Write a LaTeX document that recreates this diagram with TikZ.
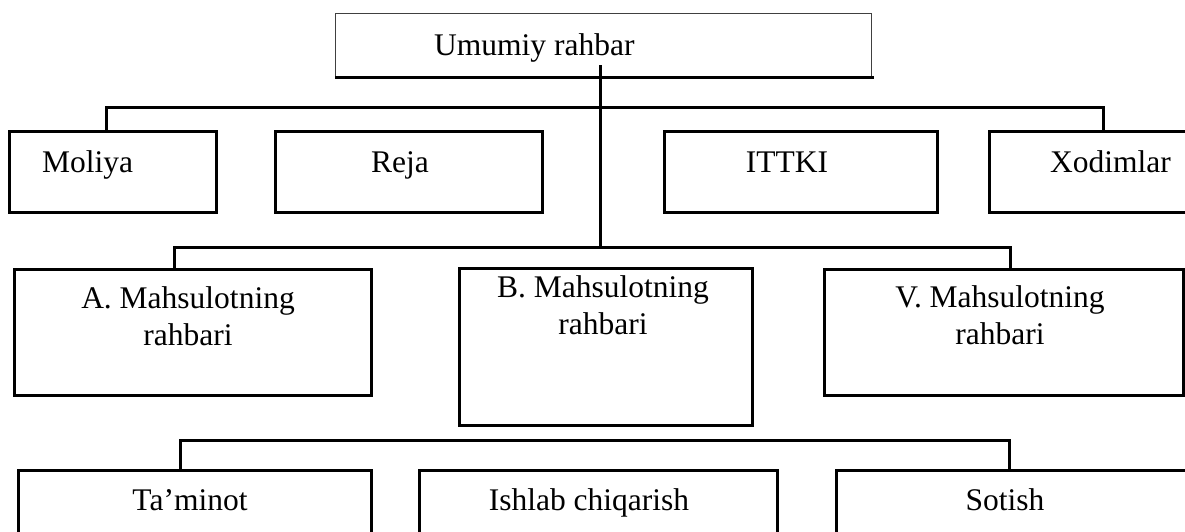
\documentclass[tikz,border=0pt]{standalone}
\usepackage{fontspec}
\setmainfont{Liberation Serif}
\begin{document}
\begin{tikzpicture}[x=1pt,y=-1pt,
  every node/.style={font=\fontsize{31.5}{37}\selectfont},
  box/.style={draw, line width=3pt, inner sep=0pt, anchor=north west},
  thinbox/.style={draw=black!75, line width=1.3pt, inner sep=0pt, anchor=north west},
  link/.style={line width=3pt},
  lbl/.style={inner sep=0pt, anchor=base, align=center}]
\clip (0,0) rectangle (1185,531);
% top box
\node[thinbox, minimum width=536pt, minimum height=63pt] (top) at (335,13) {};
\draw[link] (top.south west) -- ([xshift=2pt]top.south east);
\node[lbl, anchor=base west] (topt) at (434,55) {Umumiy rahbar};
% row 1
\node[box, minimum width=207pt, minimum height=81pt] (moliya) at (8,130) {};
\node[box, minimum width=267pt, minimum height=81pt] (reja) at (274,130) {};
\node[box, minimum width=273pt, minimum height=81pt] (ittki) at (663,130) {};
\node[box, minimum width=240pt, minimum height=81pt] (xodim) at (988,130) {};
\node[lbl, anchor=base west] (moliyat) at (42,172) {Moliya};
\node[lbl] (rejat) at (400,172) {Reja};
\node[lbl] (ittkit) at (787,172) {ITTKI};
\node[lbl, anchor=base west] (xodimt) at (1050,172) {Xodimlar};
% row 2
\node[box, minimum width=357pt, minimum height=126pt] (a) at (13,268) {};
\node[box, minimum width=293pt, minimum height=157pt] (b) at (458,267) {};
\node[box, minimum width=359pt, minimum height=126pt] (v) at (823,268) {};
\node[lbl] (at) at (188,345) {A. Mahsulotning\\rahbari};
\node[lbl] (bt) at (603,334) {B. Mahsulotning\\rahbari};
\node[lbl] (vt) at (1000,344) {V. Mahsulotning\\rahbari};
% row 3
\node[box, minimum width=353pt, minimum height=120pt] (tam) at (17,469) {};
\node[box, minimum width=358pt, minimum height=120pt] (ish) at (418,469) {};
\node[box, minimum width=400pt, minimum height=120pt] (sot) at (835,469) {};
\node[lbl] (tamt) at (190,510) {Ta’minot};
\node[lbl] (isht) at (589,510) {Ishlab chiqarish};
\node[lbl] (sott) at (1005,510) {Sotish};
% connector coordinates
\coordinate (trunktop) at (600,65);
\coordinate (j2) at (600,247);
\coordinate (m1) at (106,130);
\coordinate (x1) at (1103,130);
\coordinate (a1) at (174,268);
\coordinate (v1) at (1010,268);
\coordinate (t1) at (180,469);
\coordinate (s1) at (1009,469);
% connectors
\draw[link] (trunktop) -- (j2);
\draw[link] (m1) -- ++(0,-23) -| (x1);
\draw[link] (a1) -- ++(0,-21) -| (v1);
\draw[link] (t1) -- ++(0,-29) -| (s1);
\end{tikzpicture}
\end{document}
